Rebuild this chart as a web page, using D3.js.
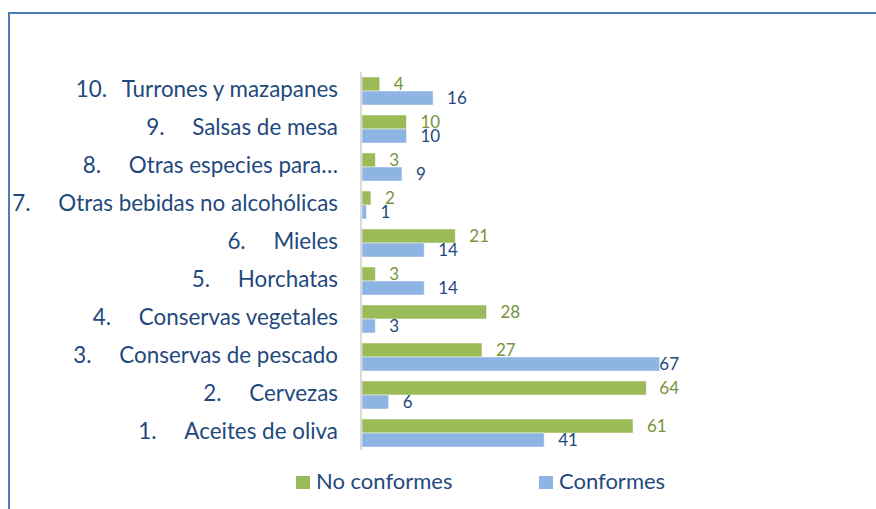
<!DOCTYPE html>
<html>
<head>
<meta charset="utf-8">
<script src="https://cdn.jsdelivr.net/npm/d3@7"></script>
<style>
  body { margin: 0; background: #fff; }
  svg { display: block; font-family: Lato, "Noto Sans", sans-serif; }
</style>
</head>
<body>
<svg id="chart"></svg>
<script>
// chart values, category 1 at the bottom
const categoryNumbers = ['1.', '2.', '3.', '4.', '5.', '6.', '7.', '8.', '9.', '10.'];
const categoryNames = ['Aceites de oliva', 'Cervezas', 'Conservas de pescado', 'Conservas vegetales',
    'Horchatas', 'Mieles', 'Otras bebidas no alcohólicas', 'Otras especies para…', 'Salsas de mesa',
    'Turrones y mazapanes'];
const seriesNames = ['No conformes', 'Conformes'];
const noConformes = [61, 64, 27, 28, 3, 21, 2, 3, 10, 4];
const conformes = [41, 6, 67, 3, 14, 14, 1, 9, 10, 16];
const xDomain = [0, 70];

class BarChart {
    constructor(_config) {
        this.config = {
            parentElement: _config.parentElement,
            containerWidth: _config.containerWidth || 876,
            containerHeight: _config.containerHeight || 509,
            margin: {top: 72, right: 203, bottom: 57, left: 362}
        };
        this.colors = {'No conformes': '#9BBB59', 'Conformes': '#8DB4E2'};
        this.labelColors = {'No conformes': '#77933C', 'Conformes': '#1F497D'};
        this.initVis();
    }

    initVis() {
        let vis = this;
        vis.width = vis.config.containerWidth - vis.config.margin.left - vis.config.margin.right;
        vis.height = vis.config.containerHeight - vis.config.margin.top - vis.config.margin.bottom;

        vis.svg = d3.select(vis.config.parentElement)
            .attr('width', vis.config.containerWidth)
            .attr('height', vis.config.containerHeight);

        // outer frame, cut off on the right and bottom
        vis.svg.append('rect')
            .attr('x', 9).attr('y', 13)
            .attr('width', 1000).attr('height', 1000)
            .attr('fill', 'none')
            .attr('stroke', '#4A7EBB')
            .attr('stroke-width', 2);

        vis.chart = vis.svg.append('g')
            .attr('transform', `translate(${vis.config.margin.left}, ${vis.config.margin.top})`);

        vis.xScale = d3.scaleLinear()
            .domain(xDomain)
            .range([0, vis.width]);

        vis.yScale = d3.scaleBand()
            .domain(categoryNumbers.slice().reverse())
            .range([0, vis.height])
            .paddingInner(10 / 38)
            .paddingOuter(5 / 38);

        vis.subScale = d3.scaleBand()
            .domain(seriesNames)
            .range([0, vis.yScale.bandwidth()]);

        vis.data = categoryNumbers.map((n, i) => ({
            num: n,
            name: categoryNames[i],
            values: [
                {series: 'No conformes', value: noConformes[i]},
                {series: 'Conformes', value: conformes[i]}
            ]
        }));

        vis.updateVis();
    }

    updateVis() {
        let vis = this;

        let groups = vis.chart.selectAll('.cat')
            .data(vis.data)
            .join('g')
            .attr('class', 'cat')
            .attr('transform', d => `translate(0, ${vis.yScale(d.num)})`);

        groups.selectAll('rect')
            .data(d => d.values)
            .join('rect')
            .attr('x', vis.xScale(0))
            .attr('y', d => vis.subScale(d.series))
            .attr('width', d => vis.xScale(d.value) - vis.xScale(0))
            .attr('height', vis.subScale.bandwidth())
            .attr('fill', d => vis.colors[d.series])
            .attr('stroke', 'rgba(255,255,255,0.6)')
            .attr('stroke-width', 0.8);

        // value labels, kept inside the plot area
        let maxRight = vis.width + 6;
        groups.selectAll('.val')
            .data(d => d.values)
            .join('text')
            .attr('class', 'val')
            .attr('y', d => vis.subScale(d.series) + vis.subScale.bandwidth() / 2 + 6)
            .attr('font-size', 17)
            .attr('fill', d => vis.labelColors[d.series])
            .text(d => d.value)
            .attr('x', function(d) {
                let w = this.getComputedTextLength();
                return Math.min(vis.xScale(d.value) + 14, maxRight - w);
            });

        // category labels: number in a tab column, name right-aligned
        let labels = vis.chart.selectAll('.cat-label')
            .data(vis.data)
            .join('g')
            .attr('class', 'cat-label')
            .attr('transform', d => `translate(0, ${vis.yScale(d.num) + vis.yScale.bandwidth() / 2})`);

        labels.append('text')
            .attr('x', -24)
            .attr('y', 6)
            .attr('text-anchor', 'end')
            .attr('font-size', 22.4)
            .attr('fill', '#1F497D')
            .text(d => d.name)
            .each(function(d) { d.textStart = -24 - this.getComputedTextLength(); });

        labels.append('text')
            .attr('x', d => d.textStart - 46)
            .attr('y', 6)
            .attr('font-size', 22.4)
            .attr('fill', '#1F497D')
            .text(d => d.num);

        // vertical axis line
        vis.chart.append('line')
            .attr('x1', -1).attr('x2', -1)
            .attr('y1', 0).attr('y2', vis.height - 2)
            .attr('stroke', '#D9D9D9')
            .attr('stroke-width', 2);

        // legend
        let legendX = [296, 539];
        let legend = vis.svg.selectAll('.legend')
            .data(seriesNames)
            .join('g')
            .attr('class', 'legend')
            .attr('transform', (d, i) => `translate(${legendX[i]}, 476)`);

        legend.append('rect')
            .attr('width', 14).attr('height', 13)
            .attr('fill', d => vis.colors[d]);

        legend.append('text')
            .attr('x', 20)
            .attr('y', 13)
            .attr('font-size', 22)
            .attr('fill', '#1F497D')
            .text(d => d);
    }
}

new BarChart({parentElement: '#chart'});
</script>
</body>
</html>
